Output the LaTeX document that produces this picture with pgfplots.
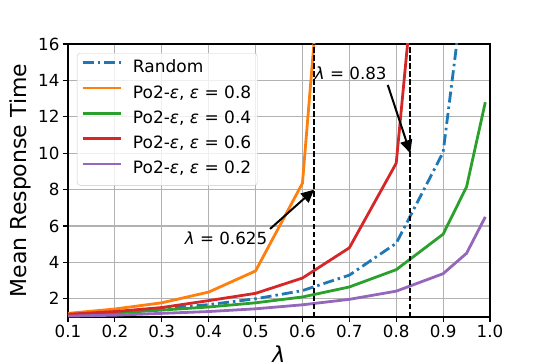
\documentclass[border=0pt]{standalone}
\usepackage{fontspec}
\setmainfont{DejaVu Sans}
\usepackage{pgfplots}
\pgfplotsset{compat=1.18}
\usetikzlibrary{arrows.meta}

\definecolor{tabblue}{HTML}{1F77B4}
\definecolor{taborange}{HTML}{FF7F0E}
\definecolor{tabgreen}{HTML}{2CA02C}
\definecolor{tabred}{HTML}{D62728}
\definecolor{tabpurple}{HTML}{9467BD}

\newcommand{\lam}{\textit{λ}}
\newcommand{\eps}{\textit{ε}}

\begin{document}
\begin{tikzpicture}
\begin{axis}[
   scale only axis, width=422bp, height=273bp,
   at={(0,0)}, anchor=south west,
   xmin=0.1, xmax=1.0, ymin=1, ymax=16,
   xtick={0.1,0.2,0.3,0.4,0.5,0.6,0.7,0.8,0.9,1.0},
   ytick={2,4,6,8,10,12,14,16},
   xticklabel style={/pgf/number format/.cd,fixed,fixed zerofill,precision=1},
   /pgf/number format/assume math mode=true,
   tick label style={font=\fontsize{16.7bp}{20bp}\selectfont},
   grid=major, grid style={color=black!30, line width=1.1bp},
   axis line style={line width=1.1bp},
   tick style={black, line width=1.1bp},
   major tick length=5bp, tick align=outside,
   xtick pos=bottom, ytick pos=left,
   xlabel={\lam}, ylabel={Mean Response Time},
   label style={font=\fontsize{22bp}{26bp}\selectfont},
   xlabel style={at={(axis description cs:0.5,-0.137)}, anchor=center},
   ylabel style={at={(axis description cs:-0.1137,0.5)}, anchor=center},
   legend style={at={(axis description cs:0.0213,0.967)}, anchor=north west,
       draw=black!20, rounded corners=3bp, fill=white, fill opacity=0.8,
       text opacity=1, font=\fontsize{17bp}{20bp}\selectfont,
       inner xsep=4bp, inner ysep=5bp, row sep=4.3bp, column sep=9bp,
       nodes={inner sep=2bp, text height=12.5bp, text depth=4.5bp}},
   legend cell align=left,
   legend image code/.code={\draw[#1] (0bp,6bp) -- (38bp,6bp);},
   every axis plot/.append style={line width=2.8bp},
   ]
%% Random
\addplot[color=tabblue, dash pattern=on 11bp off 4bp on 2.5bp off 4bp]
  coordinates {(0.1,1.1) (0.2,1.25) (0.3,1.45) (0.4,1.68) (0.5,2.0) (0.6,2.45)
   (0.7,3.3) (0.8,5.05) (0.9,10.05) (0.95,20.3)};
%% eps = 0.8
\addplot[color=taborange]
  coordinates {(0.1,1.2) (0.2,1.44) (0.3,1.78) (0.4,2.37) (0.5,3.53) (0.6,8.35)
   (0.65,24)};
%% eps = 0.4
\addplot[color=tabgreen]
  coordinates {(0.1,1.1) (0.2,1.22) (0.3,1.38) (0.4,1.55) (0.5,1.78) (0.6,2.1)
   (0.7,2.65) (0.8,3.6) (0.9,5.55) (0.95,8.15) (0.99,12.8)};
%% eps = 0.6
\addplot[color=tabred]
  coordinates {(0.1,1.15) (0.2,1.3) (0.3,1.52) (0.4,1.9) (0.5,2.3) (0.6,3.14)
   (0.7,4.8) (0.8,9.45) (0.85,23)};
%% eps = 0.2
\addplot[color=tabpurple]
  coordinates {(0.1,1.05) (0.2,1.1) (0.3,1.2) (0.4,1.3) (0.5,1.45) (0.6,1.67)
   (0.7,1.97) (0.8,2.42) (0.9,3.38) (0.95,4.5) (0.99,6.5)};
%% markers for the two thresholds
\addplot[black, line width=1.6bp, dash pattern=on 5.5bp off 2.5bp, forget plot]
  coordinates {(0.625,1) (0.625,16)};
\addplot[black, line width=1.6bp, dash pattern=on 5.5bp off 2.5bp, forget plot]
  coordinates {(0.83,1) (0.83,16)};
\draw[black, line width=2bp, -{Triangle[length=13bp,width=12bp]}]
  (axis cs:0.782,13.75) -- (axis cs:0.83,10);
\draw[black, line width=2bp, -{Triangle[length=13bp,width=12bp]}]
  (axis cs:0.531,5.84) -- (axis cs:0.625,8);
\node[font=\fontsize{16.7bp}{20bp}\selectfont] at (axis cs:0.703,14.4) {\lam{} = 0.83};
\node[font=\fontsize{16.7bp}{20bp}\selectfont] at (axis cs:0.437,5.34) {\lam{} = 0.625};
\legend{Random, {Po2-\eps, \eps{} = 0.8}, {Po2-\eps, \eps{} = 0.4},
        {Po2-\eps, \eps{} = 0.6}, {Po2-\eps, \eps{} = 0.2}}
\end{axis}
\pgfresetboundingbox
\useasboundingbox (-68bp,-46bp) rectangle (477bp,317bp);
\end{tikzpicture}
\end{document}
